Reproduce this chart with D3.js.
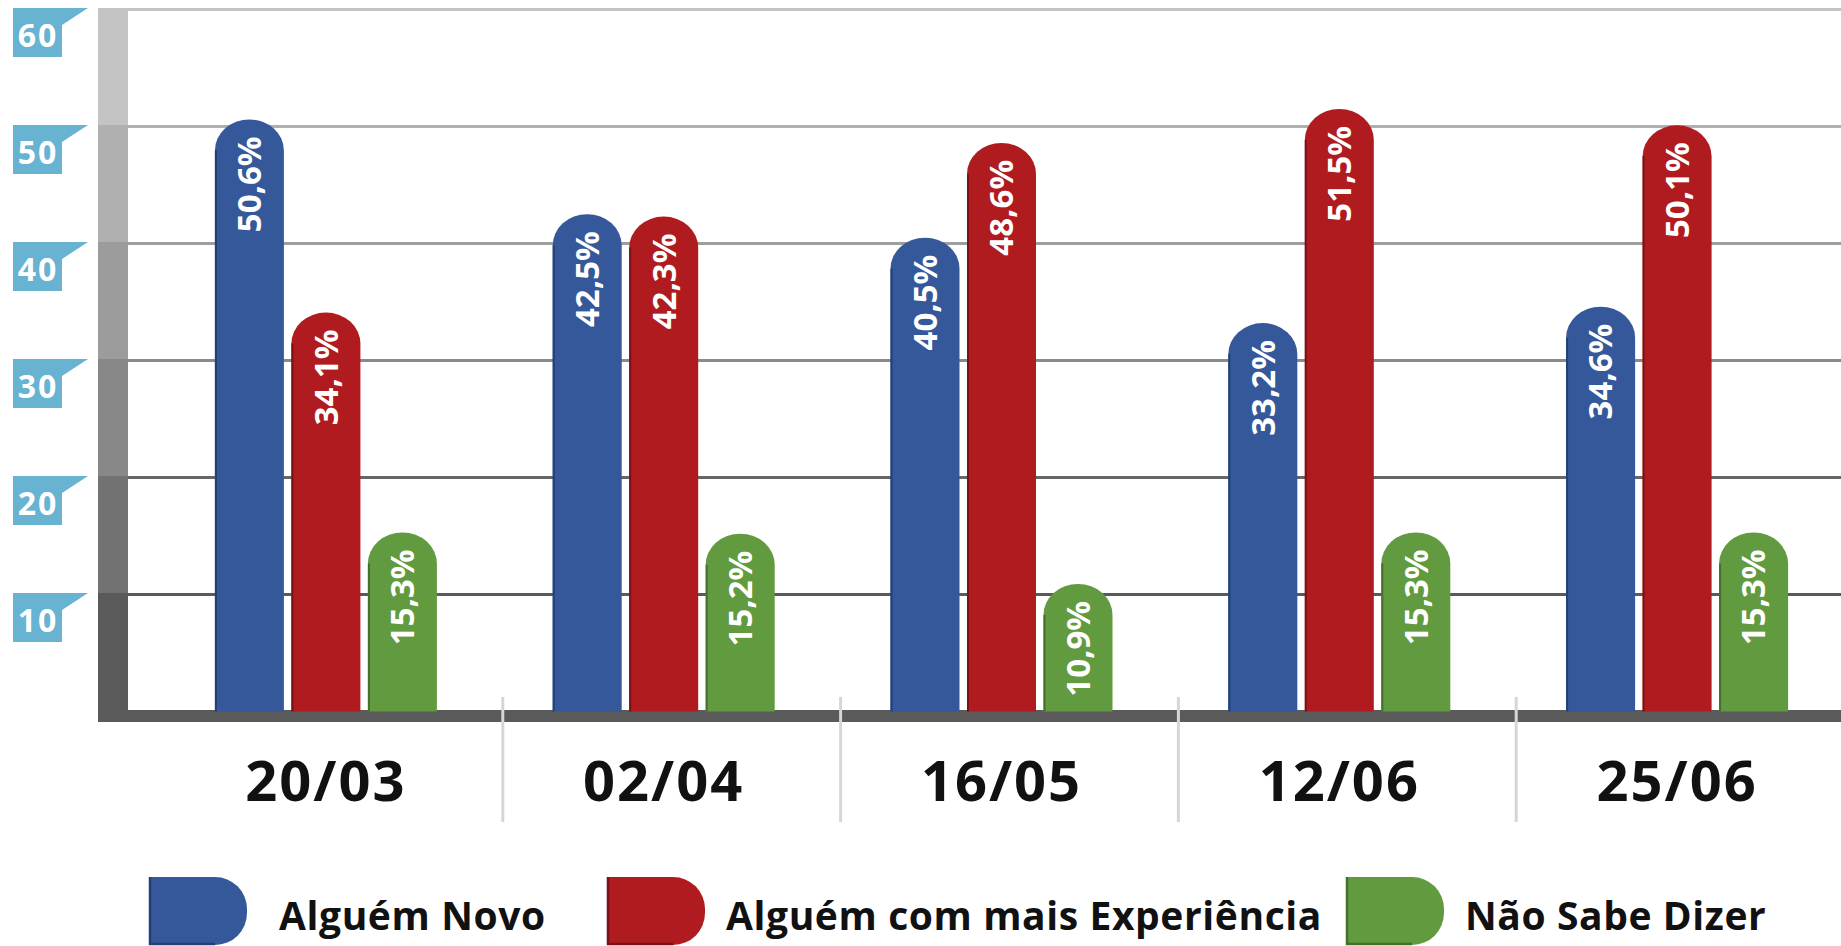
<!DOCTYPE html>
<html>
<head>
<meta charset="utf-8">
<script src="https://cdn.jsdelivr.net/npm/d3@7"></script>
<style>
  html, body { margin: 0; padding: 0; background: #ffffff; }
  svg { display: block; }
  text { font-family: "Open Sans", "Noto Sans", sans-serif; font-weight: 700; }
</style>
</head>
<body>
<script>
// ---- data ----
const categories = ["20/03", "02/04", "16/05", "12/06", "25/06"];
const seriesNames = ["Alguém Novo", "Alguém com mais Experiência", "Não Sabe Dizer"];
const novo = [50.6, 42.5, 40.5, 33.2, 34.6];
const experiencia = [34.1, 42.3, 48.6, 51.5, 50.1];
const naoSabe = [15.3, 15.2, 10.9, 15.3, 15.3];
const yTicks = [10, 20, 30, 40, 50, 60];

// ---- styles ----
const seriesColors = ["#34589a", "#b01b1f", "#629a40"];
const edgeColors = ["#233f73", "#7c1114", "#456f2b"];
const bandColors = ["#5a5a5a", "#727272", "#888888", "#9c9c9c", "#b0b0b0", "#c4c4c4"];
const gridColors = ["#5a5a5a", "#666666", "#8a8a8a", "#9e9e9e", "#b0b0b0", "#c4c4c4"];
const tickBoxColor = "#67b3d1";

const W = 1841, H = 946;
const svg = d3.select("body").append("svg").attr("width", W).attr("height", H);

const values = [novo, experiencia, naoSabe];
const rows = categories.map((c, i) => ({ cat: c, vals: values.map((s, k) => ({ k, v: s[i] })) }));

const y = d3.scaleLinear().domain([0, 60]).range([711.5, 9.5]);
const x0 = d3.scaleBand().domain(categories).range([157, 1846]).padding(0);
const x1 = d3.scaleBand().domain(d3.range(seriesNames.length)).range([-111, 111]).paddingInner(0.098);

// ---- gray stepped band on y axis ----
const bandX = 98, bandW = 30;
svg.append("g").selectAll("rect")
  .data(d3.range(6))
  .join("rect")
  .attr("x", bandX)
  .attr("width", bandW)
  .attr("y", d => y((d + 1) * 10) - 1.5)
  .attr("height", d => y(d * 10) - y((d + 1) * 10))
  .attr("fill", d => bandColors[d]);

// ---- gridlines ----
svg.append("g").selectAll("line")
  .data(yTicks)
  .join("line")
  .attr("x1", bandX + bandW)
  .attr("x2", W)
  .attr("y1", d => y(d))
  .attr("y2", d => y(d))
  .attr("stroke", d => gridColors[d / 10 - 1])
  .attr("stroke-width", 3);

// ---- axis bar ----
svg.append("rect")
  .attr("x", bandX).attr("y", y(0) - 1.5)
  .attr("width", W - bandX).attr("height", 12)
  .attr("fill", "#5a5a5a");

// ---- group separators ----
svg.append("g").selectAll("line")
  .data(categories.slice(1))
  .join("line")
  .attr("x1", d => x0(d) + 8).attr("x2", d => x0(d) + 8)
  .attr("y1", 697).attr("y2", 822)
  .attr("stroke", "#d6d6d6")
  .attr("stroke-width", 3);

// ---- y tick labels (flag boxes) ----
const tg = svg.append("g").selectAll("g")
  .data(yTicks)
  .join("g")
  .attr("transform", d => `translate(0,${y(d) - 1.5})`);
tg.append("path")
  .attr("d", "M13,0 L88,0 L62,17 L62,49 L13,49 Z")
  .attr("fill", tickBoxColor);
tg.append("text")
  .attr("x", 38).attr("y", 39)
  .attr("text-anchor", "middle")
  .attr("fill", "#ffffff")
  .attr("font-size", 32)
  .attr("letter-spacing", 2)
  .text(d => d);

// ---- bars ----
function barPath(x, top, w, bottom) {
  const rx = w / 2, ry = Math.min(31, (bottom - top));
  return `M${x},${bottom} L${x},${top + ry} A${rx},${ry} 0 0 1 ${x + w},${top + ry} L${x + w},${bottom} Z`;
}
const fmt = v => d3.format(".1f")(v).replace(".", ",") + "%";

const groups = svg.append("g").selectAll("g")
  .data(rows)
  .join("g")
  .attr("transform", d => `translate(${x0(d.cat) + x0.bandwidth() / 2},0)`);

const bars = groups.selectAll("g.bar")
  .data(d => d.vals)
  .join("g").attr("class", "bar");

bars.append("path")
  .attr("d", d => barPath(x1(d.k), y(d.v), x1.bandwidth(), y(0)))
  .attr("fill", d => seriesColors[d.k]);
bars.append("line")
  .attr("x1", d => x1(d.k) + 1).attr("x2", d => x1(d.k) + 1)
  .attr("y1", y(0)).attr("y2", d => y(d.v) + 31)
  .attr("stroke", d => edgeColors[d.k])
  .attr("stroke-width", 2);
bars.append("text")
  .attr("transform", d => `translate(${x1(d.k) + x1.bandwidth() / 2},${y(d.v) + 17}) rotate(-90)`)
  .attr("text-anchor", "end")
  .attr("dy", "0.36em")
  .attr("fill", "#ffffff")
  .attr("font-size", 33)
  .text(d => fmt(d.v));

// ---- x labels ----
svg.append("g").selectAll("text")
  .data(categories)
  .join("text")
  .attr("x", d => x0(d) + x0.bandwidth() / 2)
  .attr("y", 801)
  .attr("text-anchor", "middle")
  .attr("fill", "#111111")
  .attr("font-size", 56)
  .attr("letter-spacing", 2)
  .text(d => d);

// ---- legend ----
const legendX = [149, 607, 1346];
const swW = 98, swH = 68, swY = 877, swR = 32;
const lg = svg.append("g").selectAll("g")
  .data(seriesNames)
  .join("g")
  .attr("transform", (d, i) => `translate(${legendX[i]},${swY})`);
lg.append("path")
  .attr("d", `M0,0 L${swW - swR},0 A${swR},${swR} 0 0 1 ${swW},${swR} L${swW},${swH - swR} A${swR},${swR} 0 0 1 ${swW - swR},${swH} L0,${swH} Z`)
  .attr("fill", (d, i) => seriesColors[i]);
lg.append("path")
  .attr("d", `M1,0 L1,${swH - 1} L${swW - swR},${swH - 1}`)
  .attr("fill", "none")
  .attr("stroke", (d, i) => edgeColors[i])
  .attr("stroke-width", 2.5);
lg.append("text")
  .attr("x", (d, i) => i === 0 ? 130 : 119)
  .attr("y", 53)
  .attr("fill", "#111111")
  .attr("font-size", 39)
  .attr("letter-spacing", 0.6)
  .text(d => d);
</script>
</body>
</html>
